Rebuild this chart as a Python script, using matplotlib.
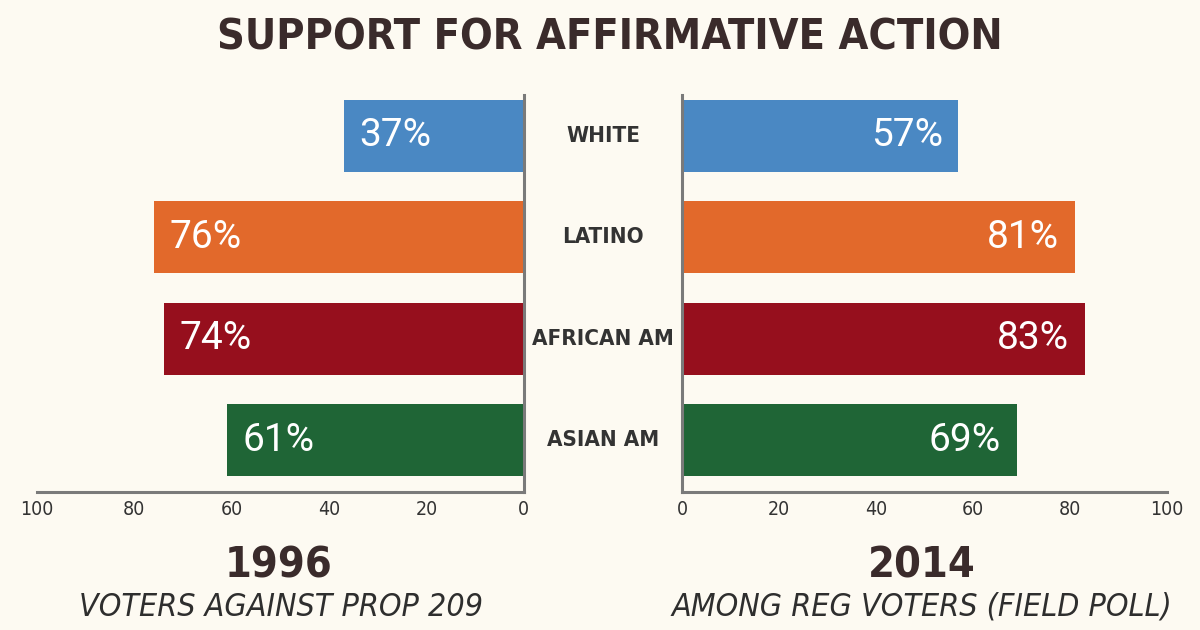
"""Support for affirmative action: 1996 vs 2014 mirrored bars"""
import matplotlib
matplotlib.use("Agg")
import matplotlib.pyplot as plt
import matplotlib.transforms as mtransforms

groups = ["WHITE", "LATINO", "AFRICAN AM", "ASIAN AM"]
pct_1996 = [37, 76, 74, 61]
pct_2014 = [57, 81, 83, 69]
colors = ["#4a88c3", "#e2692b", "#960f1d", "#1f6536"]
ticks = [0, 20, 40, 60, 80, 100]

BG = "#fdfaf2"
DARK = "#3a2b2b"
SPINE = "#7a7a7a"
COND = dict(family="DejaVu Sans", fontstretch="condensed")

fig = plt.figure(figsize=(12, 6.3), dpi=100, facecolor=BG)
ax1 = fig.add_axes([0.0308, 0.219, 0.4058, 0.630])
ax2 = fig.add_axes([0.5683, 0.219, 0.4042, 0.630])

y = list(range(len(groups)))
for ax, vals, side in [(ax1, pct_1996, "left"), (ax2, pct_2014, "right")]:
    ax.set_facecolor(BG)
    ax.barh(y, vals, height=0.71, color=colors)
    ax.set_ylim(3.51, -0.40)
    ax.set_xticks(ticks)
    ax.set_xticklabels([str(t) for t in ticks], **COND)
    ax.tick_params(axis="x", length=0, pad=6, labelsize=14, labelcolor="#333333")
    ax.set_yticks([])
    ax.spines["top"].set_visible(False)
    for s in ["bottom", "left", "right"]:
        ax.spines[s].set_color(SPINE)
        ax.spines[s].set_linewidth(2.2)
    for yi, v in zip(y, vals):
        ax.text(v - 3.2, yi, f"{v}%", color="white", fontsize=28,
                family="Roboto", ha="left" if side == "left" else "right",
                va="center")

ax1.set_xlim(100, 0)
ax1.spines["left"].set_visible(False)
ax2.set_xlim(0, 100)
ax2.spines["right"].set_visible(False)

# group names between the two panels
tr = mtransforms.blended_transform_factory(fig.transFigure, ax1.transData)
for yi, g in zip(y, groups):
    ax1.text(0.5025, yi, g, transform=tr, ha="center", va="center",
             fontsize=16, fontweight="bold", color="#333333", clip_on=False,
             **COND)

fig.text(0.508, 0.94, "SUPPORT FOR AFFIRMATIVE ACTION", ha="center", va="center",
         fontsize=31, fontweight="heavy", color=DARK, **COND)

fig.text(0.232, 0.103, "1996", ha="center", va="center", fontsize=31,
         fontweight="bold", color=DARK, **COND)
fig.text(0.234, 0.036, "VOTERS AGAINST PROP 209",
         ha="center", va="center", fontsize=23, style="italic",
         color="#2e2e2e", **COND)
fig.text(0.768, 0.103, "2014", ha="center", va="center", fontsize=31,
         fontweight="bold", color=DARK, **COND)
fig.text(0.768, 0.036, "AMONG REG VOTERS (FIELD POLL)", ha="center", va="center",
         fontsize=23, style="italic", color="#2e2e2e", **COND)

fig.savefig("out.png", dpi=100, facecolor=BG)
plt.close(fig)
